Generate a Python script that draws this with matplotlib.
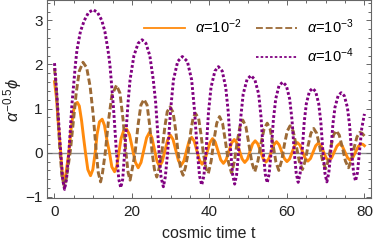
import matplotlib
matplotlib.use('Agg')
import matplotlib.pyplot as plt
from matplotlib.lines import Line2D
from matplotlib.ticker import MultipleLocator

plt.rcParams['font.family'] = ['Liberation Sans', 'DejaVu Sans']
plt.rcParams['mathtext.fontset'] = 'custom'
plt.rcParams['mathtext.rm'] = 'Liberation Sans'
plt.rcParams['mathtext.it'] = 'Liberation Sans:italic'
plt.rcParams['mathtext.fallback'] = 'stixsans'

# values
labels = [r'$\alpha$=10$^{-2}$', r'$\alpha$=10$^{-3}$', r'$\alpha$=10$^{-4}$']

# alpha = 1e-2 (orange, solid)
t_o = [0, 0.5, 1.0, 1.6, 2.0, 2.45, 2.9, 3.3, 3.7, 4.3, 4.9, 5.4, 5.9, 6.4, 7.0, 7.5, 8.0,
       8.6, 9.3, 9.9, 10.5, 11.0, 11.6, 12.3, 12.9, 13.5, 14.2, 14.8, 15.5, 16.1, 16.6,
       17.2, 17.9, 18.6,
       19.35, 20.1, 20.85, 21.6,
       22.33, 23.05, 23.78, 24.5,
       25.15, 25.8, 26.45, 27.1,
       27.8, 28.5, 29.2, 29.9,
       30.6, 31.3, 32.0, 32.7,
       33.38, 34.05, 34.73, 35.4,
       36.08, 36.75, 37.43, 38.1,
       38.78, 39.45, 40.13, 40.8,
       41.5, 42.2, 42.9, 43.6,
       44.3, 45.0, 45.7, 46.4,
       47.08, 47.75, 48.43, 49.1,
       49.78, 50.45, 51.13, 51.8,
       52.5, 53.2, 53.9, 54.6,
       55.28, 55.95, 56.63, 57.3,
       57.98, 58.65, 59.33, 60.0,
       60.68, 61.35, 62.03, 62.7,
       63.38, 64.05, 64.73, 65.4,
       66.08, 66.75, 67.43, 68.1,
       68.78, 69.45, 70.13, 70.8,
       71.5, 72.2, 72.9, 73.6,
       74.28, 74.95, 75.63, 76.3,
       77.0, 77.7, 78.4, 79.1,
       79.6, 80.0]
y_o = [1.61, 1.25, 0.65, 0.0, -0.45, -0.68, -0.5, -0.25, 0.0, 0.55, 0.95, 1.11, 1.14, 1.06, 0.72, 0.35, 0.0,
       -0.38, -0.52, -0.38, 0.0, 0.42, 0.70, 0.76, 0.62, 0.30, 0.0, -0.32, -0.43, -0.30, 0.0,
       0.33, 0.51, 0.54,
       0.41, 0.10, -0.21, -0.34,
       -0.22, 0.06, 0.34, 0.46,
       0.34, 0.075, -0.19, -0.31,
       -0.20, 0.045, 0.29, 0.40,
       0.30, 0.06, -0.18, -0.28,
       -0.19, 0.035, 0.26, 0.35,
       0.26, 0.045, -0.17, -0.26,
       -0.17, 0.03, 0.23, 0.32,
       0.24, 0.04, -0.16, -0.24,
       -0.16, 0.03, 0.22, 0.30,
       0.22, 0.04, -0.14, -0.22,
       -0.15, 0.025, 0.20, 0.27,
       0.20, 0.03, -0.14, -0.21,
       -0.14, 0.02, 0.18, 0.25,
       0.18, 0.025, -0.13, -0.20,
       -0.14, 0.015, 0.17, 0.23,
       0.17, 0.02, -0.13, -0.19,
       -0.13, 0.015, 0.16, 0.22,
       0.16, 0.02, -0.12, -0.18,
       -0.12, 0.015, 0.15, 0.21,
       0.15, 0.02, -0.11, -0.17,
       -0.11, 0.015, 0.14, 0.20,
       0.19, 0.16]

# alpha = 1e-3 (brown, dashed)
t_b = [0, 0.5, 1.0, 1.4, 1.9, 2.5,
       3.0, 3.5, 4.1, 4.8, 5.6, 6.4, 7.35,
       8.3, 9.2, 10.0, 10.8, 11.3, 11.9,
       12.4, 13.1, 13.9, 14.8, 16.0,
       16.9, 17.7, 18.45, 19.0, 19.5,
       20.1, 20.8, 21.6, 22.3, 23.1,
       23.9, 24.6, 25.2, 25.8, 26.4,
       27.0, 27.7, 28.5, 29.1, 29.8,
       30.6, 31.3, 31.9, 32.6, 33.2,
       33.8, 34.5, 35.2, 35.8, 36.4,
       37.2, 37.8, 38.4, 39.1, 39.7,
       40.43, 41.15, 41.88, 42.6,
       43.38, 44.15, 44.93, 45.7,
       46.43, 47.15, 47.88, 48.6,
       49.38, 50.15, 50.93, 51.7,
       52.5, 53.3, 54.1, 54.9,
       55.65, 56.4, 57.15, 57.9,
       58.63, 59.35, 60.08, 60.8,
       61.6, 62.4, 63.2, 64.0,
       64.73, 65.45, 66.18, 66.9,
       67.68, 68.45, 69.23, 70.0,
       70.68, 71.35, 72.03, 72.7,
       73.5, 74.3, 75.1, 75.9,
       76.63, 77.35, 78.08, 78.8,
       79.4, 80.0]
y_b = [1.92, 1.40, 0.65, 0.05, -0.52, -0.75,
       -0.60, -0.32, 0.05, 0.65, 1.35, 1.85, 2.05,
       1.93, 1.50, 0.85, 0.0, -0.45, -0.66,
       -0.45, 0.0, 0.70, 1.30, 1.53,
       1.35, 0.75, 0.0, -0.45, -0.62,
       -0.35, 0.0, 0.65, 1.08, 1.21,
       1.08, 0.60, 0.0, -0.38, -0.55,
       -0.35, 0.0, 0.60, 0.93, 1.04,
       0.92, 0.50, 0.0, -0.38, -0.51,
       -0.33, 0.0, 0.50, 0.80, 0.89,
       0.78, 0.42, 0.0, -0.35, -0.47,
       -0.19, 0.28, 0.67, 0.82,
       0.67, 0.24, -0.23, -0.46,
       -0.20, 0.24, 0.60, 0.74,
       0.60, 0.21, -0.22, -0.43,
       -0.19, 0.21, 0.54, 0.67,
       0.54, 0.19, -0.21, -0.40,
       -0.18, 0.19, 0.49, 0.61,
       0.49, 0.16, -0.20, -0.38,
       -0.18, 0.16, 0.44, 0.55,
       0.44, 0.14, -0.20, -0.36,
       -0.17, 0.14, 0.40, 0.50,
       0.40, 0.12, -0.19, -0.34,
       -0.16, 0.12, 0.36, 0.46,
       0.44, 0.38]

# alpha = 1e-4 (purple, dotted)
t_p = [0, 0.5, 1.0, 1.6, 2.1, 2.6,
       3.1, 3.7, 4.5, 5.4, 5.8, 6.7, 7.7, 8.8, 10.0,
       11.1, 12.2, 13.0, 13.8, 14.3, 15.2, 16.0,
       16.6, 17.1, 17.6, 18.1,
       19.0, 19.5, 20.5, 21.6, 22.6, 23.6, 24.6, 25.5, 26.1, 27.0,
       27.5, 28.1, 28.6, 29.2,
       30.0, 30.7, 31.8, 33.0, 34.3, 35.4, 36.1, 36.9,
       37.45, 38.0, 38.55, 39.1,
       39.75, 40.4, 41.4, 42.3, 43.3, 44.2, 44.85, 45.5,
       46.0, 46.5, 47.0, 47.5,
       48.1, 48.7, 49.7, 50.7, 51.7, 52.7, 53.3, 53.9,
       54.4, 54.9, 55.4, 55.9,
       56.5, 57.1, 57.95, 58.9, 59.85, 60.7, 61.3, 61.9,
       62.4, 62.9, 63.4, 63.9,
       64.45, 65.0, 65.8, 66.6, 67.4, 68.2, 68.75, 69.3,
       69.8, 70.3, 70.8, 71.3,
       71.85, 72.4, 73.2, 74.0, 74.8, 75.6, 76.15, 76.7,
       77.2, 77.7, 78.2, 78.7, 79.3, 80.0]
y_p = [2.03, 1.45, 0.80, 0.0, -0.60, -0.83,
       -0.60, 0.0, 1.10, 2.00, 2.33, 2.75, 3.00, 3.18, 3.24,
       3.18, 3.00, 2.75, 2.33, 2.00, 1.05, 0.0,
       -0.60, -0.79, -0.60, 0.0,
       1.15, 1.65, 2.20, 2.48, 2.56, 2.48, 2.20, 1.65, 1.15, 0.0,
       -0.55, -0.77, -0.55, 0.0,
       1.00, 1.65, 2.07, 2.18, 2.07, 1.65, 1.00, 0.0,
       -0.53, -0.73, -0.53, 0.0,
       0.92, 1.48, 1.85, 1.95, 1.85, 1.48, 0.92, 0.0,
       -0.50, -0.71, -0.50, 0.0,
       0.82, 1.33, 1.66, 1.75, 1.66, 1.33, 0.82, 0.0,
       -0.48, -0.68, -0.48, 0.0,
       0.75, 1.22, 1.52, 1.60, 1.52, 1.22, 0.75, 0.0,
       -0.47, -0.67, -0.47, 0.0,
       0.69, 1.11, 1.39, 1.46, 1.39, 1.11, 0.69, 0.0,
       -0.46, -0.66, -0.46, 0.0,
       0.64, 1.03, 1.29, 1.36, 1.29, 1.03, 0.64, 0.0,
       -0.45, -0.64, -0.45, 0.0, 0.55, 0.88]

c_orange = '#ff8a0d'
c_brown = '#9c6a36'
c_purple = '#800080'
frame_col = '#666666'
text_col = '#222222'

fig = plt.figure(figsize=(3.74, 2.45), dpi=100)
ax = fig.add_axes([0.125, 0.191, 0.866, 0.807])

ax.axhline(0, color='#8c8c8c', lw=1.0, zorder=1)
ax.plot(t_o, y_o, color=c_orange, lw=2.1, solid_joinstyle='round', zorder=2)
ax.plot(t_b, y_b, color=c_brown, lw=2.1, dashes=(2.2, 1.0), dash_capstyle='butt', zorder=3)
ax.plot(t_p, y_p, color=c_purple, lw=2.1, dashes=(0.95, 0.75), dash_capstyle='butt', zorder=4)

ax.set_xlim(-2.0, 81.6)
ax.set_ylim(-1.03, 3.45)

ax.xaxis.set_major_locator(MultipleLocator(20))
ax.xaxis.set_minor_locator(MultipleLocator(5))
ax.yaxis.set_major_locator(MultipleLocator(1))
ax.yaxis.set_minor_locator(MultipleLocator(0.2))
ax.tick_params(which='both', direction='in', top=True, right=True, color=frame_col,
               labelcolor=text_col, labelsize=11, width=0.7)
ax.tick_params(which='major', length=3.5)
ax.tick_params(which='minor', length=2.0)
ax.tick_params(axis='x', which='major', pad=5)
ax.tick_params(axis='y', which='major', pad=3)
for s in ax.spines.values():
    s.set_color(frame_col)
    s.set_linewidth(0.8)

ax.set_xlabel('cosmic time t', fontsize=11.5, color=text_col, labelpad=5)
ax.set_ylabel(r'$\alpha^{-0.5}\phi$', fontsize=12, color=text_col, labelpad=1)

# thinner line samples in the legend, as in the reference
h1 = Line2D([], [], color=c_orange, lw=1.3)
h2 = Line2D([], [], color=c_brown, lw=1.3, dashes=(3.8, 1.6), dash_capstyle='butt')
h3 = Line2D([], [], color=c_purple, lw=1.3, dashes=(1.4, 1.2), dash_capstyle='butt')
blank = Line2D([], [], linestyle='none')
ax.legend([h1, blank, h2, h3], [labels[0], ' ', labels[1], labels[2]], ncol=2,
          loc='upper left', bbox_to_anchor=(0.299, 0.915), frameon=False, fontsize=10.5,
          handlelength=2.85, handletextpad=0.65, columnspacing=1.0, labelspacing=0.75,
          borderpad=0, borderaxespad=0)

fig.savefig('out.png', dpi=100)
